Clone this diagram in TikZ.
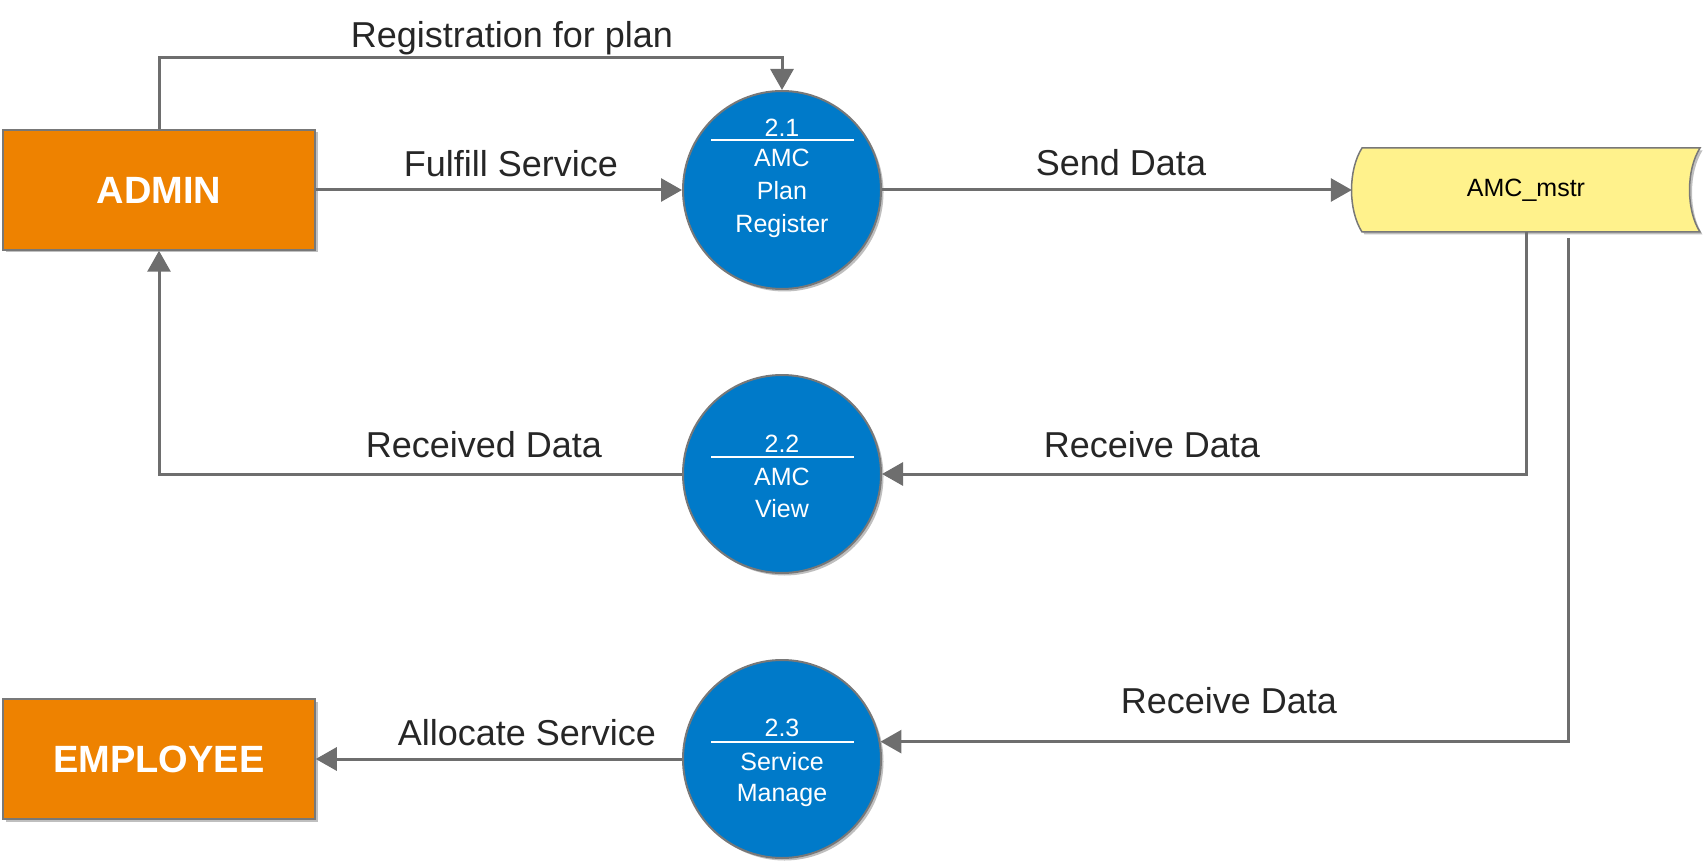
\documentclass[tikz,border=0pt]{standalone}
\usepackage{fontspec}
\setmainfont{Liberation Sans}
\usetikzlibrary{arrows.meta,shadows}
\definecolor{boxorange}{RGB}{238,130,0}
\definecolor{procblue}{RGB}{0,122,201}
\definecolor{storeyellow}{RGB}{255,242,140}
\definecolor{linegray}{RGB}{110,110,110}
\definecolor{edgegray}{RGB}{120,120,120}

\begin{document}
\begin{tikzpicture}[x=1pt,y=-1pt,
  softshadow/.style={drop shadow={shadow xshift=2.5pt,shadow yshift=-2.5pt,
    opacity=.25,fill=black}},
  entity/.style={draw=edgegray,line width=1.5pt,fill=boxorange,
    minimum width=312pt,minimum height=120pt,inner sep=0pt,text=white,
    font=\fontsize{38}{40}\selectfont\bfseries,softshadow},
  process/.style={circle,draw=edgegray,line width=2pt,fill=procblue,
    minimum size=198pt,inner sep=0pt,softshadow},
  ptext/.style={anchor=base,text=white,inner sep=0pt,
    font=\fontsize{25}{28}\selectfont},
  divider/.style={white,line width=2.5pt},
  flow/.style={draw=linegray,line width=3pt,
    -{Triangle[length=21pt,width=23pt]}},
  flowlabel/.style={anchor=base,inner sep=0pt,text=black!85,
    font=\fontsize{36}{40}\selectfont}]
  \useasboundingbox (0,0) rectangle (1707,866);

  % external entities
  \node[entity] (admin) at (159,190) {ADMIN};
  \node[entity] (employee) at (159,759) {EMPLOYEE};

  % processes
  \node[process] (p21) at (782,190) {};
  \node[ptext] (p21num) at (782,137) {2.1};
  \draw[divider] (711,140) -- (854,140);
  \node[ptext] (p21a) at (782,167) {AMC};
  \node[ptext] (p21b) at (782,200) {Plan};
  \node[ptext] (p21c) at (782,233) {Register};

  \node[process] (p22) at (782,474) {};
  \node[ptext] (p22num) at (782,452) {2.2};
  \draw[divider] (711,457) -- (854,457);
  \node[ptext] (p22a) at (782,485) {AMC};
  \node[ptext] (p22b) at (782,517) {View};

  \node[process] (p23) at (782,759) {};
  \node[ptext] (p23num) at (782,736) {2.3};
  \draw[divider] (711,742) -- (854,742);
  \node[ptext] (p23a) at (782,770) {Service};
  \node[ptext] (p23b) at (782,801) {Manage};

  % data store
  \path[draw=edgegray,line width=1.5pt,fill=storeyellow,softshadow]
    (1362,148) -- (1700,148) .. controls (1686,170) and (1686,210) .. (1700,232)
    -- (1362,232) .. controls (1348,210) and (1348,170) .. cycle;
  \node[font=\fontsize{25}{28}\selectfont,minimum width=348pt,
    minimum height=84pt,inner sep=0pt] (store) at (1526,190) {AMC\_mstr};

  % flows
  \coordinate (regtop) at (782,58);
  \coordinate (tap) at (1568,238);
  \draw[flow] (admin.north) |- (regtop) -- (p21.north);
  \draw[flow] (admin) -- (p21);
  \draw[flow] (p21) -- (store);
  \draw[flow] (store.south) |- (p22.east);
  \draw[flow] (p22.west) -| (admin.south);
  \draw[flow] (tap) |- (p23.10);
  \draw[flow] (p23) -- (employee);

  \node[flowlabel] (lreg) at (512,48) {Registration for plan};
  \node[flowlabel] (lfulfill) at (511,177) {Fulfill Service};
  \node[flowlabel] (lsend) at (1121,176) {Send Data};
  \node[flowlabel] (lrecv1) at (1152,457) {Receive Data};
  \node[flowlabel] (lrecvd) at (484,457) {Received Data};
  \node[flowlabel] (lrecv2) at (1229,713) {Receive Data};
  \node[flowlabel] (lalloc) at (527,745) {Allocate Service};
\end{tikzpicture}
\end{document}
